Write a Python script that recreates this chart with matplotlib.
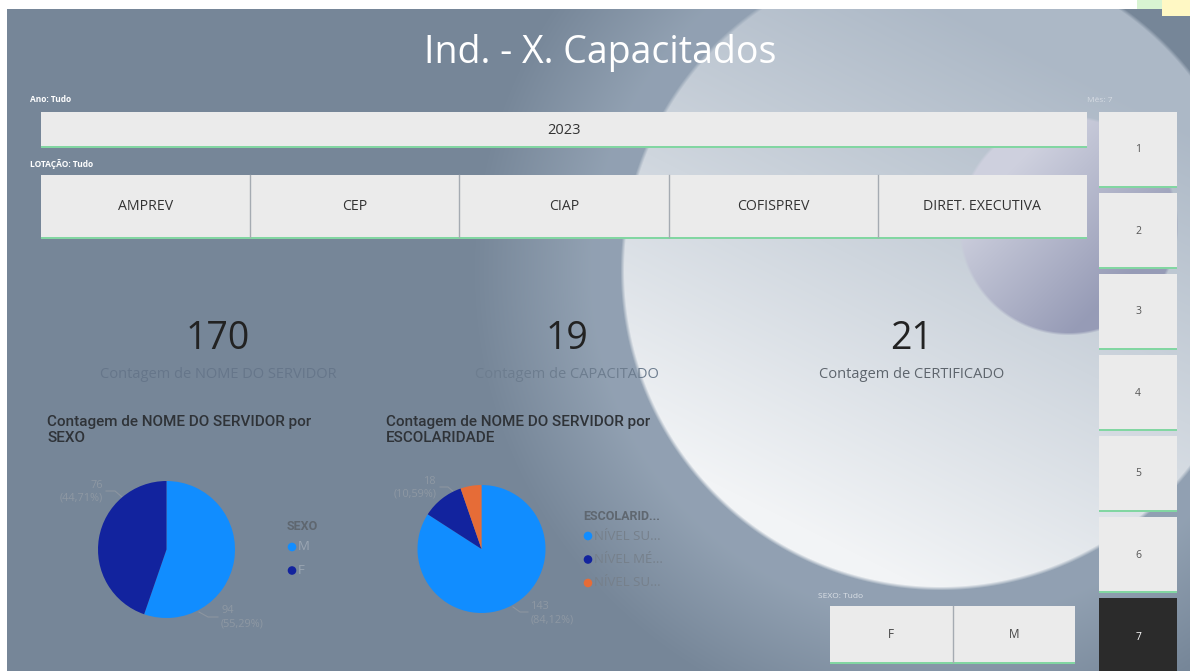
"""
Ind. - X. Capacitados  (Power BI page re-drawn in matplotlib)
Layout is in screen pixels (1190 x 671), y grows downward.
Output: out.png
"""
import numpy as np
import matplotlib
matplotlib.use("Agg")
import matplotlib.pyplot as plt
from matplotlib.patches import Rectangle, Circle

W, H = 1190, 671

# ---- data ----
ANO_OPTS = ["2023"]
LOTACAO_OPTS = ["AMPREV", "CEP", "CIAP", "COFISPREV", "DIRET. EXECUTIVA"]
MES_OPTS = ["1", "2", "3", "4", "5", "6", "7"]
MES_SELECTED = "7"
SEXO_OPTS = ["F", "M"]
KPI_VALUES = [170, 19, 21]
KPI_LABELS = ["Contagem de NOME DO SERVIDOR", "Contagem de CAPACITADO",
              "Contagem de CERTIFICADO"]
SEXO_CATS = ["M", "F"]
SEXO_COUNTS = [94, 76]
ESC_CATS = ["NÍVEL SU...", "NÍVEL MÉ...", "NÍVEL SU..."]
ESC_COUNTS = [143, 18, 9]

PIE_COLORS = ["#118dff", "#12239e", "#e66c37"]
BTN_FILL = "#ebebeb"
GREEN = "#82d6a2"
UI_FONT = ["Open Sans", "DejaVu Sans"]
TITLE_FONT = ["Roboto", "DejaVu Sans"]


def background():
    yy, xx = np.mgrid[0:H, 0:W].astype(float)
    img = np.ones((H, W, 3)) * np.array([118, 134, 152]) / 255

    def blend(mask, col):
        col = np.asarray(col, float) / 255
        if col.ndim == 1:
            col = col[None, None, :]
        img[:] = img * (1 - mask[..., None]) + col * mask[..., None]

    cx, cy, r = 940, 270, 320
    d = np.hypot(xx - cx, yy - cy)
    # soft brushed halo round the sphere (kept off the top-right corner)
    side = np.where(yy > cy, 1.0, np.clip((cx + 60 - xx) / 120, 0, 1))
    halo = np.clip((r + 150 - d) / 120, 0, 1) * side
    blend(halo * 0.65, [160, 175, 192])
    # big white sphere, grey on top, brighter towards lower-left
    s = np.clip(0.45 + 0.6 * ((cx - xx) * 0.45 + (yy - cy) * 0.9) / r, 0, 1)
    c1 = np.array([172, 184, 198]); c2 = np.array([242, 244, 246])
    blend(np.clip((r - d) / 4, 0, 1), c1 + (c2 - c1) * s[..., None])
    # small lavender ball
    bx, by, br = 1068, 225, 110
    d = np.hypot(xx - bx, yy - by)
    s = np.clip(0.5 + 0.7 * ((bx - xx) * 0.7 + (by - yy) * 0.7) / br, 0, 1)
    c1 = np.array([150, 155, 182]); c2 = np.array([206, 208, 222])
    blend(np.clip((br - d) / 3, 0, 1), c1 + (c2 - c1) * s[..., None])
    # white page frame + tinted corner patches
    img[:9, :] = 1.0
    img[:, :7] = 1.0
    img[:9, 1137:1162] = np.array([216, 244, 210]) / 255
    img[:16, 1162:] = np.array([255, 248, 196]) / 255
    return img


def button(ax, x0, y0, w, h, label, fill=BTN_FILL, fg="#333333", size=10.5, line=True):
    ax.add_patch(Rectangle((x0, y0), w, h, facecolor=fill, edgecolor="none"))
    if line:
        ax.add_patch(Rectangle((x0, y0 + h - 2.5), w, 2.5, facecolor=GREEN, edgecolor="none"))
    ax.text(x0 + w / 2, y0 + h / 2, label, ha="center", va="center", fontsize=size,
            color=fg, family=UI_FONT)


def pie_axes(fig, cx, cy, r):
    return fig.add_axes([(cx - r) / W, 1 - (cy + r) / H, 2 * r / W, 2 * r / H])


def pct(v, tot):
    return f"({v / tot * 100:.2f}%)".replace(".", ",")


def draw_pie(fig, ax, cx, cy, r, counts, cats, title, title_x, legend_title,
             lab_specs, legend_xy, legend_fg):
    ax.text(title_x, 430, title, ha="left", va="center", fontsize=11,
            color="#2f3338", family=TITLE_FONT, fontweight="medium", linespacing=1.1)
    pa = pie_axes(fig, cx, cy, r)
    pa.pie(counts, colors=PIE_COLORS[:len(counts)], startangle=90, counterclock=False,
           wedgeprops=dict(linewidth=0))
    pa.set_xlim(-1, 1); pa.set_ylim(-1, 1); pa.axis("off")
    tot = sum(counts)
    # data labels with leader lines (two outer slices only, as in Power BI)
    for idx, pts, tx, ty, ha in lab_specs:
        xs, ys = zip(*pts)
        ax.plot(xs, ys, color="#8c95a0", lw=0.8)
        ax.text(tx, ty, f"{counts[idx]}\n{pct(counts[idx], tot)}", ha=ha, va="center",
                fontsize=7.8, color="#8e98a3", family=UI_FONT, linespacing=1.25)
    lx, ly = legend_xy
    ax.text(lx, ly, legend_title, ha="left", va="center", fontsize=9, color="#5f6770",
            family=TITLE_FONT, fontweight="bold")
    for i, c in enumerate(cats):
        yy = ly + 20 + i * 23.5
        ax.add_patch(Circle((lx + 5, yy), 4.3, facecolor=PIE_COLORS[i], edgecolor="none"))
        ax.text(lx + 11, yy, c, ha="left", va="center", fontsize=9.5, color=legend_fg,
                family=UI_FONT)


def main():
    fig = plt.figure(figsize=(W / 100, H / 100), dpi=100)
    ax = fig.add_axes([0, 0, 1, 1])
    ax.imshow(background(), extent=(0, W, H, 0), aspect="auto", interpolation="bilinear")
    ax.set_xlim(0, W); ax.set_ylim(H, 0); ax.axis("off")

    ax.text(600, 53, "Ind. - X. Capacitados", ha="center", va="center", fontsize=27,
            color="white", family=UI_FONT)

    # slicers
    ax.text(30, 100, "Ano: Tudo", fontsize=6, color="white", fontweight="bold",
            va="center", family=UI_FONT)
    button(ax, 41, 112, 1046, 36, ANO_OPTS[0], size=10.5)
    ax.text(30, 164, "LOTAÇÃO: Tudo", fontsize=6, color="white", fontweight="bold",
            va="center", family=UI_FONT)
    bw = 1046 / len(LOTACAO_OPTS)
    for i, lab in enumerate(LOTACAO_OPTS):
        button(ax, 41 + i * bw, 175, bw, 64, lab, size=10.2)
        if i:
            ax.plot([41 + i * bw] * 2, [175, 237], color="#a5abb2", lw=1)
    ax.text(1087, 100, "Mês: 7", fontsize=6, color="#e6e9ee", va="center",
            family=UI_FONT, alpha=0.7)
    for i, lab in enumerate(MES_OPTS):
        sel = lab == MES_SELECTED
        button(ax, 1099, 112 + i * 81, 78, 76 if not sel else 80, lab,
               fill="#2b2b2b" if sel else BTN_FILL, fg="white" if sel else "#555555",
               size=7.5, line=not sel)
    ax.text(818, 597, "SEXO: Tudo", fontsize=6, color="#eef1f4", va="center",
            family=UI_FONT, alpha=0.8)
    sw = 245 / len(SEXO_OPTS)
    for i, lab in enumerate(SEXO_OPTS):
        button(ax, 830 + i * sw, 606, sw, 58, lab, size=8.5, fg="#444444")
        if i:
            ax.plot([830 + i * sw] * 2, [606, 662], color="#a5abb2", lw=1)

    # KPI cards
    kpi_x = [218, 567, 912]
    lab_col = ["#66768a", "#6d7d8f", "#5e656d"]
    for x, v, lab, c in zip(kpi_x, KPI_VALUES, KPI_LABELS, lab_col):
        ax.text(x, 339, str(v), ha="center", va="center", fontsize=27, color="#222222",
                family=UI_FONT)
        ax.text(x, 375, lab, ha="center", va="center", fontsize=10.5, color=c,
                family=UI_FONT)

    # pies
    draw_pie(fig, ax, 166.5, 549.5, 68.5, SEXO_COUNTS, SEXO_CATS,
             "Contagem de NOME DO SERVIDOR por\nSEXO", 47, "SEXO",
             [(1, [(106, 491), (115, 491), (122, 497)], 103, 492, "right"),
              (0, [(199, 612), (208, 617), (218, 617)], 221, 617, "left")],
             (287, 527), "#9aa5b2")
    draw_pie(fig, ax, 481.5, 549, 64, ESC_COUNTS, ESC_CATS,
             "Contagem de NOME DO SERVIDOR por\nESCOLARIDADE", 386, "ESCOLARID...",
             [(1, [(440, 487), (448, 487), (455, 493)], 437, 488, "right"),
              (0, [(513, 607), (520, 612), (528, 612)], 531, 613, "left")],
             (583, 516), "#76808b")

    fig.savefig("out.png", dpi=100)


if __name__ == "__main__":
    main()
